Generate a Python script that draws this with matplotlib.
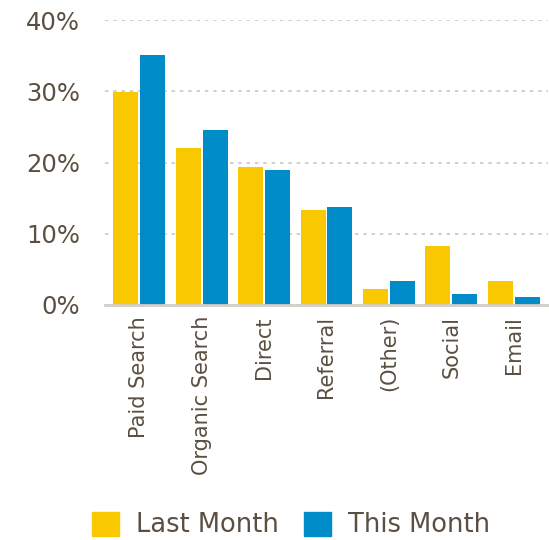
import matplotlib
matplotlib.use("Agg")
import matplotlib.pyplot as plt
import numpy as np
from matplotlib.patches import Patch

categories = ["Paid Search", "Organic Search", "Direct", "Referral", "(Other)", "Social", "Email"]
last_month = [29.9, 22.1, 19.4, 13.4, 2.2, 8.3, 3.4]
this_month = [35.1, 24.6, 19.0, 13.8, 3.4, 1.5, 1.1]
yticks = [0, 10, 20, 30, 40]
ytick_labels = ["0%", "10%", "20%", "30%", "40%"]

text_color = "#5b4f41"
yellow = "#FAC800"
blue = "#008BC9"
plt.rcParams['font.family'] = ['DejaVu Sans']

fig = plt.figure(figsize=(5.49, 5.40), dpi=100)
ax = fig.add_axes([105/549, 1-305/540, 443/549, (305-20)/540])

x = np.arange(len(categories))
w = 0.40
ax.bar(x - 0.215, last_month, width=w, color=yellow, label="Last Month")
ax.bar(x + 0.215, this_month, width=w, color=blue, label="This Month")

ax.set_xlim(-0.55, len(categories) - 0.45)
ax.set_ylim(0, 40)
ax.set_yticks(yticks)
ax.set_yticklabels(ytick_labels, fontsize=17.5, color=text_color)
ax.set_xticks(x)
ax.set_xticklabels(categories, rotation=90, fontsize=15, color=text_color)
ax.tick_params(axis='both', length=0, pad=8)
ax.tick_params(axis='y', pad=18)

for s in ['top', 'right', 'left']:
    ax.spines[s].set_visible(False)
ax.spines['bottom'].set_color("#d3cec7")
ax.spines['bottom'].set_linewidth(2)

ax.yaxis.grid(True, linestyle=(0, (2, 3)), color="#c8c4bd", linewidth=1.2)
ax.set_axisbelow(True)

handles = [Patch(color=yellow, label="Last Month"), Patch(color=blue, label="This Month")]
fig.legend(handles=handles, loc='lower center', bbox_to_anchor=(0.53, -0.04), ncol=2,
           frameon=False, fontsize=18.5, labelcolor=text_color, handlelength=1.05, handleheight=1.05,
           handletextpad=0.65, columnspacing=1.0)

fig.savefig("out.png", dpi=100)
